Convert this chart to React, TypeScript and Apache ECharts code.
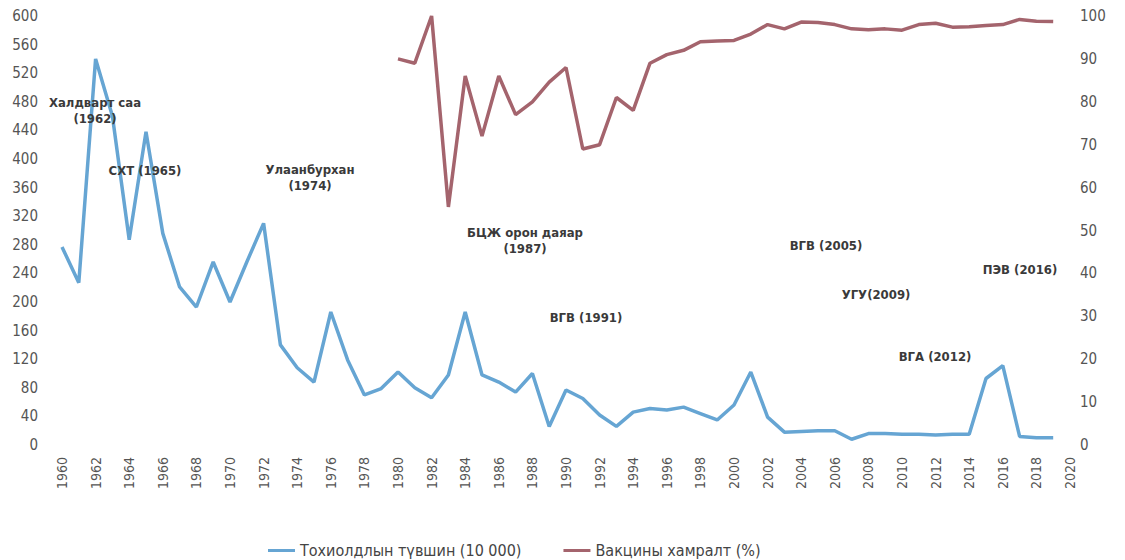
import React, { useEffect, useRef } from "react";
import * as echarts from "echarts";

const years: string[] = [];
for (let y = 1960; y <= 2020; y++) years.push(String(y));

const incidence: (number | null)[] = [
  277, 227, 540, 460, 287, 438, 296, 221, 193, 256,
  200, 256, 310, 140, 108, 88, 186, 119, 70, 79,
  102, 80, 66, 98, 186, 98, 88, 74, 100, 26,
  77, 65, 42, 26, 46, 51, 49, 53, 44, 35,
  56, 102, 39, 18, 19, 20, 20, 8, 16, 16,
  15, 15, 14, 15, 15, 93, 111, 12, 10, 10,
];

const coverage: (number | null)[] = [
  null, null, null, null, null, null, null, null, null, null,
  null, null, null, null, null, null, null, null, null, null,
  90, 89, 100, 55.5, 86, 72, 86, 77, 80, 84.6,
  88, 69, 70, 81, 78, 89, 91, 92, 94, 94.2,
  94.3, 95.8, 98, 97, 98.6, 98.5, 98, 97, 96.8, 97,
  96.7, 98, 98.3, 97.4, 97.5, 97.8, 98, 99.2, 98.8, 98.7,
];

const seriesNames = ["Тохиолдлын түвшин (10 000)", "Вакцины хамралт (%)"];

// annotation labels: [text, centerX px, centerY px] (page coordinates)
const annotations: [string, number, number][] = [
  ["Халдварт саа\n(1962)", 95, 110],
  ["СХТ (1965)", 145, 170],
  ["Улаанбурхан\n(1974)", 310, 177],
  ["БЦЖ орон даяар\n(1987)", 525, 240],
  ["ВГВ (1991)", 586, 317],
  ["ВГВ (2005)", 826, 245],
  ["УГУ(2009)", 876, 294],
  ["ПЭВ (2016)", 1020, 269],
  ["ВГА (2012)", 935, 356],
];

const FONT = "'Liberation Sans Narrow', 'DejaVu Sans Condensed', 'Open Sans', sans-serif";
const BLUE = "#66a5d3";
const RED = "#a4646d";

export default function App() {
  const ref = useRef<HTMLDivElement>(null);
  useEffect(() => {
    if (!ref.current) return;
    const chart = echarts.init(ref.current, null, { renderer: "svg" });
    chart.setOption({
      animation: false,
      backgroundColor: "#ffffff",
      grid: { left: 54, right: 47, top: 8, bottom: 115 },
      legend: {
        top: 534,
        left: 260,
        padding: 0,
        icon: "rect",
        itemWidth: 27,
        itemHeight: 3,
        itemGap: 42,
        textStyle: { fontFamily: FONT, fontSize: 16, lineHeight: 17, color: "#444" },
        data: seriesNames,
      },
      xAxis: {
        type: "category",
        data: years,
        boundaryGap: false,
        axisLine: { show: false },
        axisTick: { show: false },
        axisLabel: {
          rotate: 90,
          interval: 1,
          fontFamily: FONT,
          fontSize: 14,
          color: "#555",
          margin: 12,
        },
      },
      yAxis: [
        {
          type: "value",
          min: 0,
          max: 600,
          interval: 40,
          splitLine: { show: false },
          axisLine: { show: false },
          axisTick: { show: false },
          axisLabel: { fontFamily: FONT, fontSize: 15, color: "#555", margin: 24 },
        },
        {
          type: "value",
          min: 0,
          max: 100,
          interval: 10,
          position: "right",
          splitLine: { show: false },
          axisLine: { show: false },
          axisTick: { show: false },
          axisLabel: { fontFamily: FONT, fontSize: 15, color: "#555", margin: 10 },
        },
      ],
      series: [
        {
          name: seriesNames[0],
          type: "line",
          data: incidence,
          yAxisIndex: 0,
          symbol: "none",
          lineStyle: { color: BLUE, width: 3.5 },
          itemStyle: { color: BLUE },
        },
        {
          name: seriesNames[1],
          type: "line",
          data: coverage,
          yAxisIndex: 1,
          symbol: "none",
          lineStyle: { color: RED, width: 3.5 },
          itemStyle: { color: RED },
        },
      ],
      graphic: annotations.map(([t, x, y]) => ({
        type: "text",
        x: x - 8,
        y: y - 8,
        z: 100,
        style: {
          text: t,
          fill: "#3a3a3a",
          font: `bold 13px ${FONT}`,
          align: "center",
          verticalAlign: "middle",
          lineHeight: 16,
        },
      })),
    });
    return () => chart.dispose();
  }, []);
  return <div ref={ref} style={{ width: 1109, height: 552 }} />;
}
